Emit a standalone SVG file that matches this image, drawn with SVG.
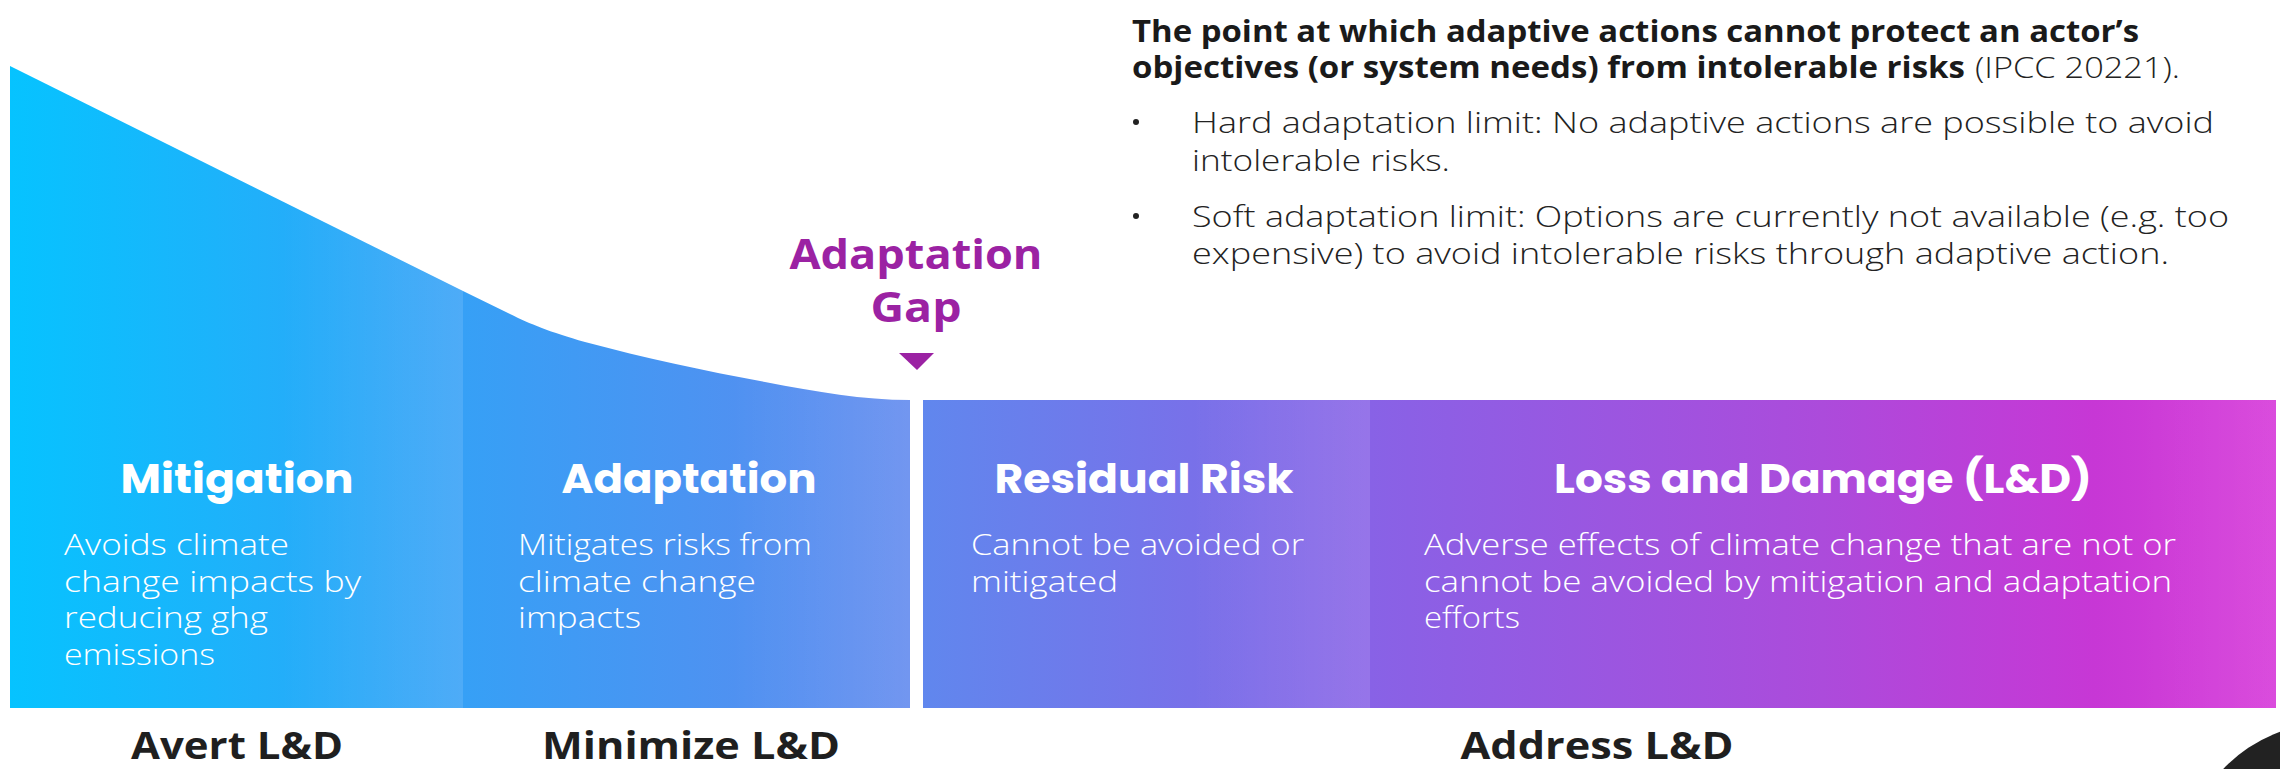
<svg xmlns="http://www.w3.org/2000/svg" width="2280" height="769" viewBox="0 0 2280 769">
  <defs>
    <linearGradient id="band" gradientUnits="userSpaceOnUse" x1="10" y1="0" x2="2276" y2="0">
      <stop offset="0" stop-color="#06c3ff"/>
      <stop offset="0.2" stop-color="#36a0f6"/>
      <stop offset="0.397" stop-color="#5f88ee"/>
      <stop offset="0.6" stop-color="#8862e6"/>
      <stop offset="0.8" stop-color="#ac4bdb"/>
      <stop offset="0.92" stop-color="#c737d5"/>
      <stop offset="1" stop-color="#d843db"/>
    </linearGradient>
    <linearGradient id="sheen" x1="0" y1="0" x2="1" y2="0">
      <stop offset="0" stop-color="#ffffff" stop-opacity="0"/>
      <stop offset="0.6" stop-color="#ffffff" stop-opacity="0"/>
      <stop offset="1" stop-color="#ffffff" stop-opacity="0.12"/>
    </linearGradient>
    <linearGradient id="sheenLight" x1="0" y1="0" x2="1" y2="0">
      <stop offset="0" stop-color="#ffffff" stop-opacity="0"/>
      <stop offset="0.85" stop-color="#ffffff" stop-opacity="0"/>
      <stop offset="1" stop-color="#ffffff" stop-opacity="0.05"/>
    </linearGradient>
    <style>
      .head { font-family: Poppins, "Open Sans", "Liberation Sans", sans-serif; font-weight: 700; font-size: 41px; fill: #ffffff; text-anchor: middle; }
      .desc { font-family: "Open Sans", "Liberation Sans", sans-serif; font-weight: 300; font-size: 29px; fill: #ffffff; }
      .label { font-family: "Open Sans", "Liberation Sans", sans-serif; font-weight: 700; font-size: 37px; fill: #1f1f1f; text-anchor: middle; }
      .gap { font-family: "Open Sans", "Liberation Sans", sans-serif; font-weight: 700; font-size: 41px; fill: #9b22a3; text-anchor: middle; }
      .defb { font-family: "Open Sans", "Liberation Sans", sans-serif; font-weight: 700; font-size: 30px; fill: #1a1a1a; }
      .defl { font-family: "Open Sans", "Liberation Sans", sans-serif; font-weight: 300; font-size: 29px; fill: #222222; }
    </style>
  </defs>

  <rect width="2280" height="769" fill="#ffffff"/>

  <g id="mitigation">
    <path d="M10,66 L463,291 L463,708 L10,708 Z" fill="url(#band)"/>
    <path d="M10,66 L463,291 L463,708 L10,708 Z" fill="url(#sheen)"/>
    <text class="head" x="237" y="493" textLength="233" lengthAdjust="spacingAndGlyphs">Mitigation</text>
    <text class="desc" x="64" y="555" textLength="225" lengthAdjust="spacingAndGlyphs">Avoids climate</text>
    <text class="desc" x="64" y="592" textLength="297" lengthAdjust="spacingAndGlyphs">change impacts by</text>
    <text class="desc" x="64" y="628" textLength="204" lengthAdjust="spacingAndGlyphs">reducing ghg</text>
    <text class="desc" x="64" y="665" textLength="151" lengthAdjust="spacingAndGlyphs">emissions</text>
  </g>

  <g id="adaptation">
    <path d="M463,291 L510,314 C530,324 550,332 585,342 C645,358 705,371 765,382 C818,392 862,400 910,400 L910,708 L463,708 Z" fill="url(#band)"/>
    <path d="M463,291 L510,314 C530,324 550,332 585,342 C645,358 705,371 765,382 C818,392 862,400 910,400 L910,708 L463,708 Z" fill="url(#sheen)"/>
    <text class="head" x="689" y="493" textLength="255" lengthAdjust="spacingAndGlyphs">Adaptation</text>
    <text class="desc" x="518" y="555" textLength="294" lengthAdjust="spacingAndGlyphs">Mitigates risks from</text>
    <text class="desc" x="518" y="592" textLength="238" lengthAdjust="spacingAndGlyphs">climate change</text>
    <text class="desc" x="518" y="628" textLength="123" lengthAdjust="spacingAndGlyphs">impacts</text>
  </g>

  <g id="residual-risk">
    <rect x="923" y="400" width="447" height="308" fill="url(#band)"/>
    <rect x="923" y="400" width="447" height="308" fill="url(#sheen)"/>
    <text class="head" x="1144" y="493" textLength="299" lengthAdjust="spacingAndGlyphs">Residual Risk</text>
    <text class="desc" x="971" y="555" textLength="333" lengthAdjust="spacingAndGlyphs">Cannot be avoided or</text>
    <text class="desc" x="971" y="592" textLength="147" lengthAdjust="spacingAndGlyphs">mitigated</text>
  </g>

  <g id="loss-and-damage">
    <rect x="1370" y="400" width="906" height="308" fill="url(#band)"/>
    <rect x="1370" y="400" width="906" height="308" fill="url(#sheenLight)"/>
    <text class="head" x="1823" y="493" textLength="538" lengthAdjust="spacingAndGlyphs">Loss and Damage (L&amp;D)</text>
    <text class="desc" x="1424" y="555" textLength="752" lengthAdjust="spacingAndGlyphs">Adverse effects of climate change that are not or</text>
    <text class="desc" x="1424" y="592" textLength="748" lengthAdjust="spacingAndGlyphs">cannot be avoided by mitigation and adaptation</text>
    <text class="desc" x="1424" y="628" textLength="96" lengthAdjust="spacingAndGlyphs">efforts</text>
  </g>

  <g id="adaptation-gap">
    <text class="gap" x="916" y="269" textLength="253" lengthAdjust="spacingAndGlyphs">Adaptation</text>
    <text class="gap" x="916" y="322" textLength="91" lengthAdjust="spacingAndGlyphs">Gap</text>
    <polygon points="899,353 934,353 917,370" fill="#9b22a3"/>
  </g>

  <g id="adaptation-limit-definition">
    <text class="defb" x="1132" y="42" textLength="1007" lengthAdjust="spacingAndGlyphs">The point at which adaptive actions cannot protect an actor’s</text>
    <text class="defb" x="1132" y="78" textLength="833" lengthAdjust="spacingAndGlyphs">objectives (or system needs) from intolerable risks</text>
    <text class="defl" x="1975" y="78" textLength="205" lengthAdjust="spacingAndGlyphs">(IPCC 20221).</text>
    <circle cx="1136" cy="122" r="3" fill="#222222"/>
    <text class="defl" x="1192" y="133" textLength="1022" lengthAdjust="spacingAndGlyphs">Hard adaptation limit: No adaptive actions are possible to avoid</text>
    <text class="defl" x="1192" y="171" textLength="258" lengthAdjust="spacingAndGlyphs">intolerable risks.</text>
    <circle cx="1136" cy="216" r="3" fill="#222222"/>
    <text class="defl" x="1192" y="227" textLength="1037" lengthAdjust="spacingAndGlyphs">Soft adaptation limit: Options are currently not available (e.g. too</text>
    <text class="defl" x="1192" y="264" textLength="977" lengthAdjust="spacingAndGlyphs">expensive) to avoid intolerable risks through adaptive action.</text>
  </g>

  <g id="bottom-labels">
    <text class="label" x="237" y="759" textLength="212" lengthAdjust="spacingAndGlyphs">Avert L&amp;D</text>
    <text class="label" x="691" y="759" textLength="298" lengthAdjust="spacingAndGlyphs">Minimize L&amp;D</text>
    <text class="label" x="1597" y="759" textLength="273" lengthAdjust="spacingAndGlyphs">Address L&amp;D</text>
  </g>

  <g id="corner-shape">
    <circle cx="2330" cy="870" r="147" fill="#222222"/>
  </g>

  <g id="connectors"/>
</svg>
